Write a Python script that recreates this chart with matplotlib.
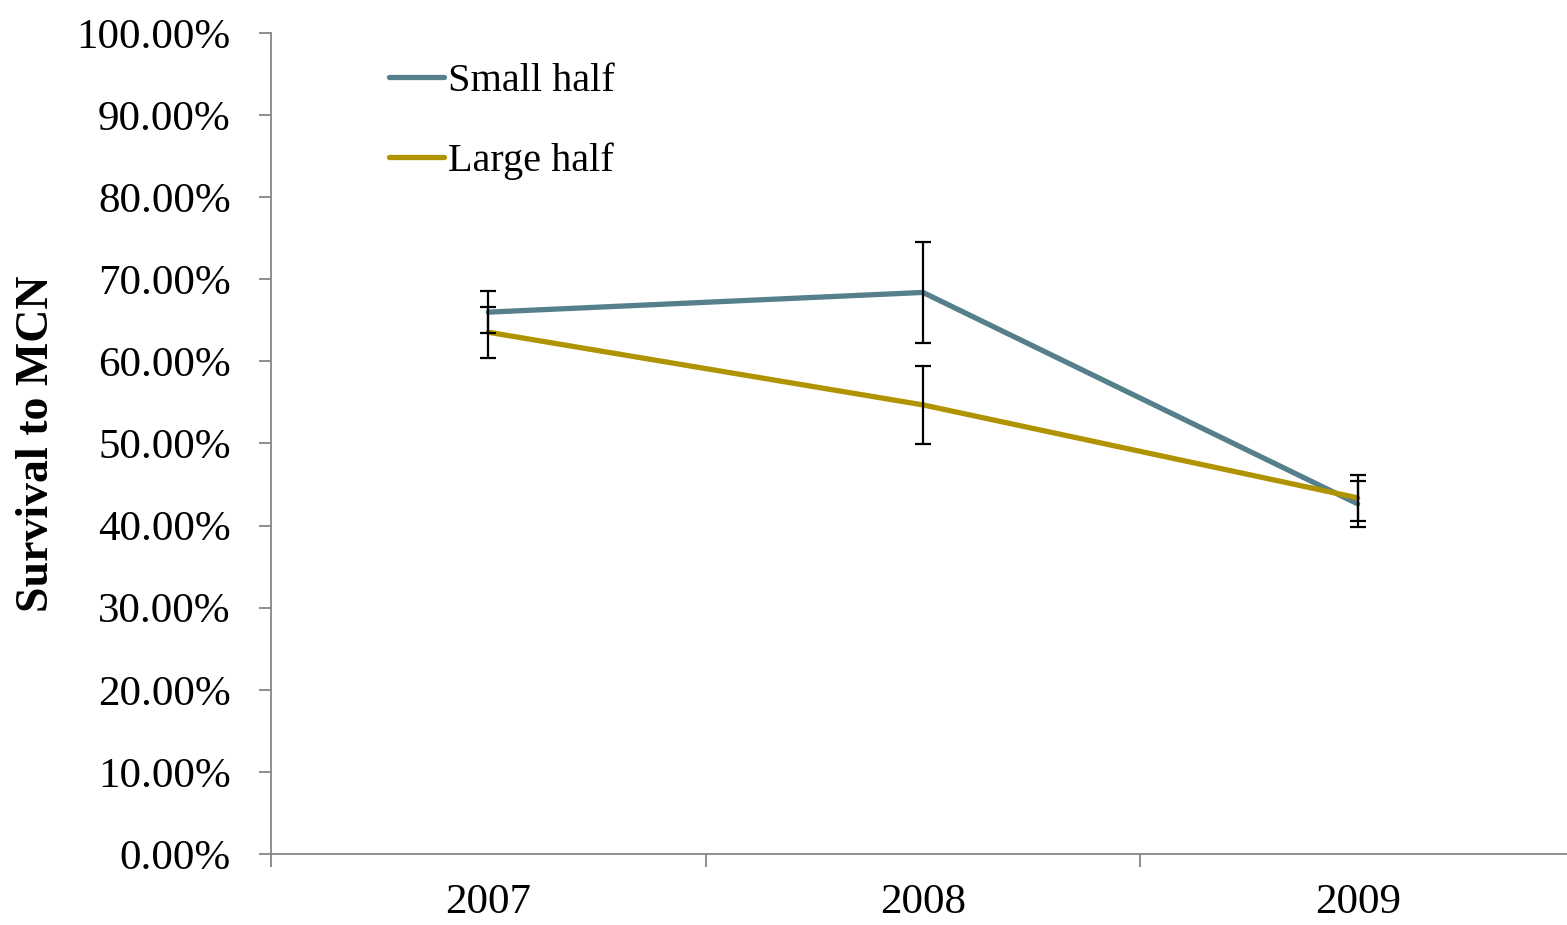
import matplotlib
matplotlib.use("Agg")
import matplotlib.pyplot as plt
from matplotlib.ticker import FuncFormatter, FixedLocator

years = ["2007", "2008", "2009"]
small_half = [66.0, 68.4, 42.65]
small_err = [2.6, 6.1, 2.8]
large_half = [63.55, 54.7, 43.38]
large_err = [3.1, 4.77, 2.78]
series_labels = ["Small half", "Large half"]
colors = ["#567F8C", "#B09300"]

plt.rcParams['font.family'] = ['Liberation Serif', 'DejaVu Serif']

fig = plt.figure(figsize=(15.67, 9.25), dpi=100)
ax = fig.add_axes([271/1567, 71/925, 1304/1567, 821/925])

x = list(range(len(years)))
for vals, errs, lab, col in [(small_half, small_err, series_labels[0], colors[0]),
                             (large_half, large_err, series_labels[1], colors[1])]:
    ax.plot(x, vals, color=col, lw=3.8, label=lab, solid_capstyle='round', zorder=3)
    ax.errorbar(x, vals, yerr=errs, fmt='none', ecolor='black', elinewidth=1.6,
                capsize=6, capthick=1.6, zorder=4)

ax.set_xlim(-0.5, 2.5)
ax.set_ylim(0, 100)
ax.set_yticks([i * 10 for i in range(11)])
ax.yaxis.set_major_formatter(FuncFormatter(lambda v, p: f"{v:.2f}%"))
ax.set_xticks(x)
ax.set_xticklabels(years)
ax.xaxis.set_minor_locator(FixedLocator([-0.5, 0.5, 1.5, 2.5]))

for s in ['top', 'right']:
    ax.spines[s].set_visible(False)
for s in ['left', 'bottom']:
    ax.spines[s].set_color('#868686')
    ax.spines[s].set_linewidth(1.3)

ax.tick_params(axis='y', which='major', length=9, width=1.3, color='#868686',
               labelsize=31, pad=20, direction='out')
ax.tick_params(axis='x', which='major', length=0, labelsize=31, pad=21)
ax.tick_params(axis='x', which='minor', length=9, width=1.3, color='#868686', direction='out')

ax.set_ylabel("Survival to MCN", fontsize=33, fontweight='bold')
ax.yaxis.set_label_coords(-0.1637, 0.5)

leg = ax.legend(loc='upper left', bbox_to_anchor=(0.0629, 1.008), frameon=False,
                fontsize=29, handlelength=1.35, handletextpad=0.1, labelspacing=1.05)
for h in leg.get_lines():
    h.set_linewidth(3.8)

fig.savefig("out.png", dpi=100)
